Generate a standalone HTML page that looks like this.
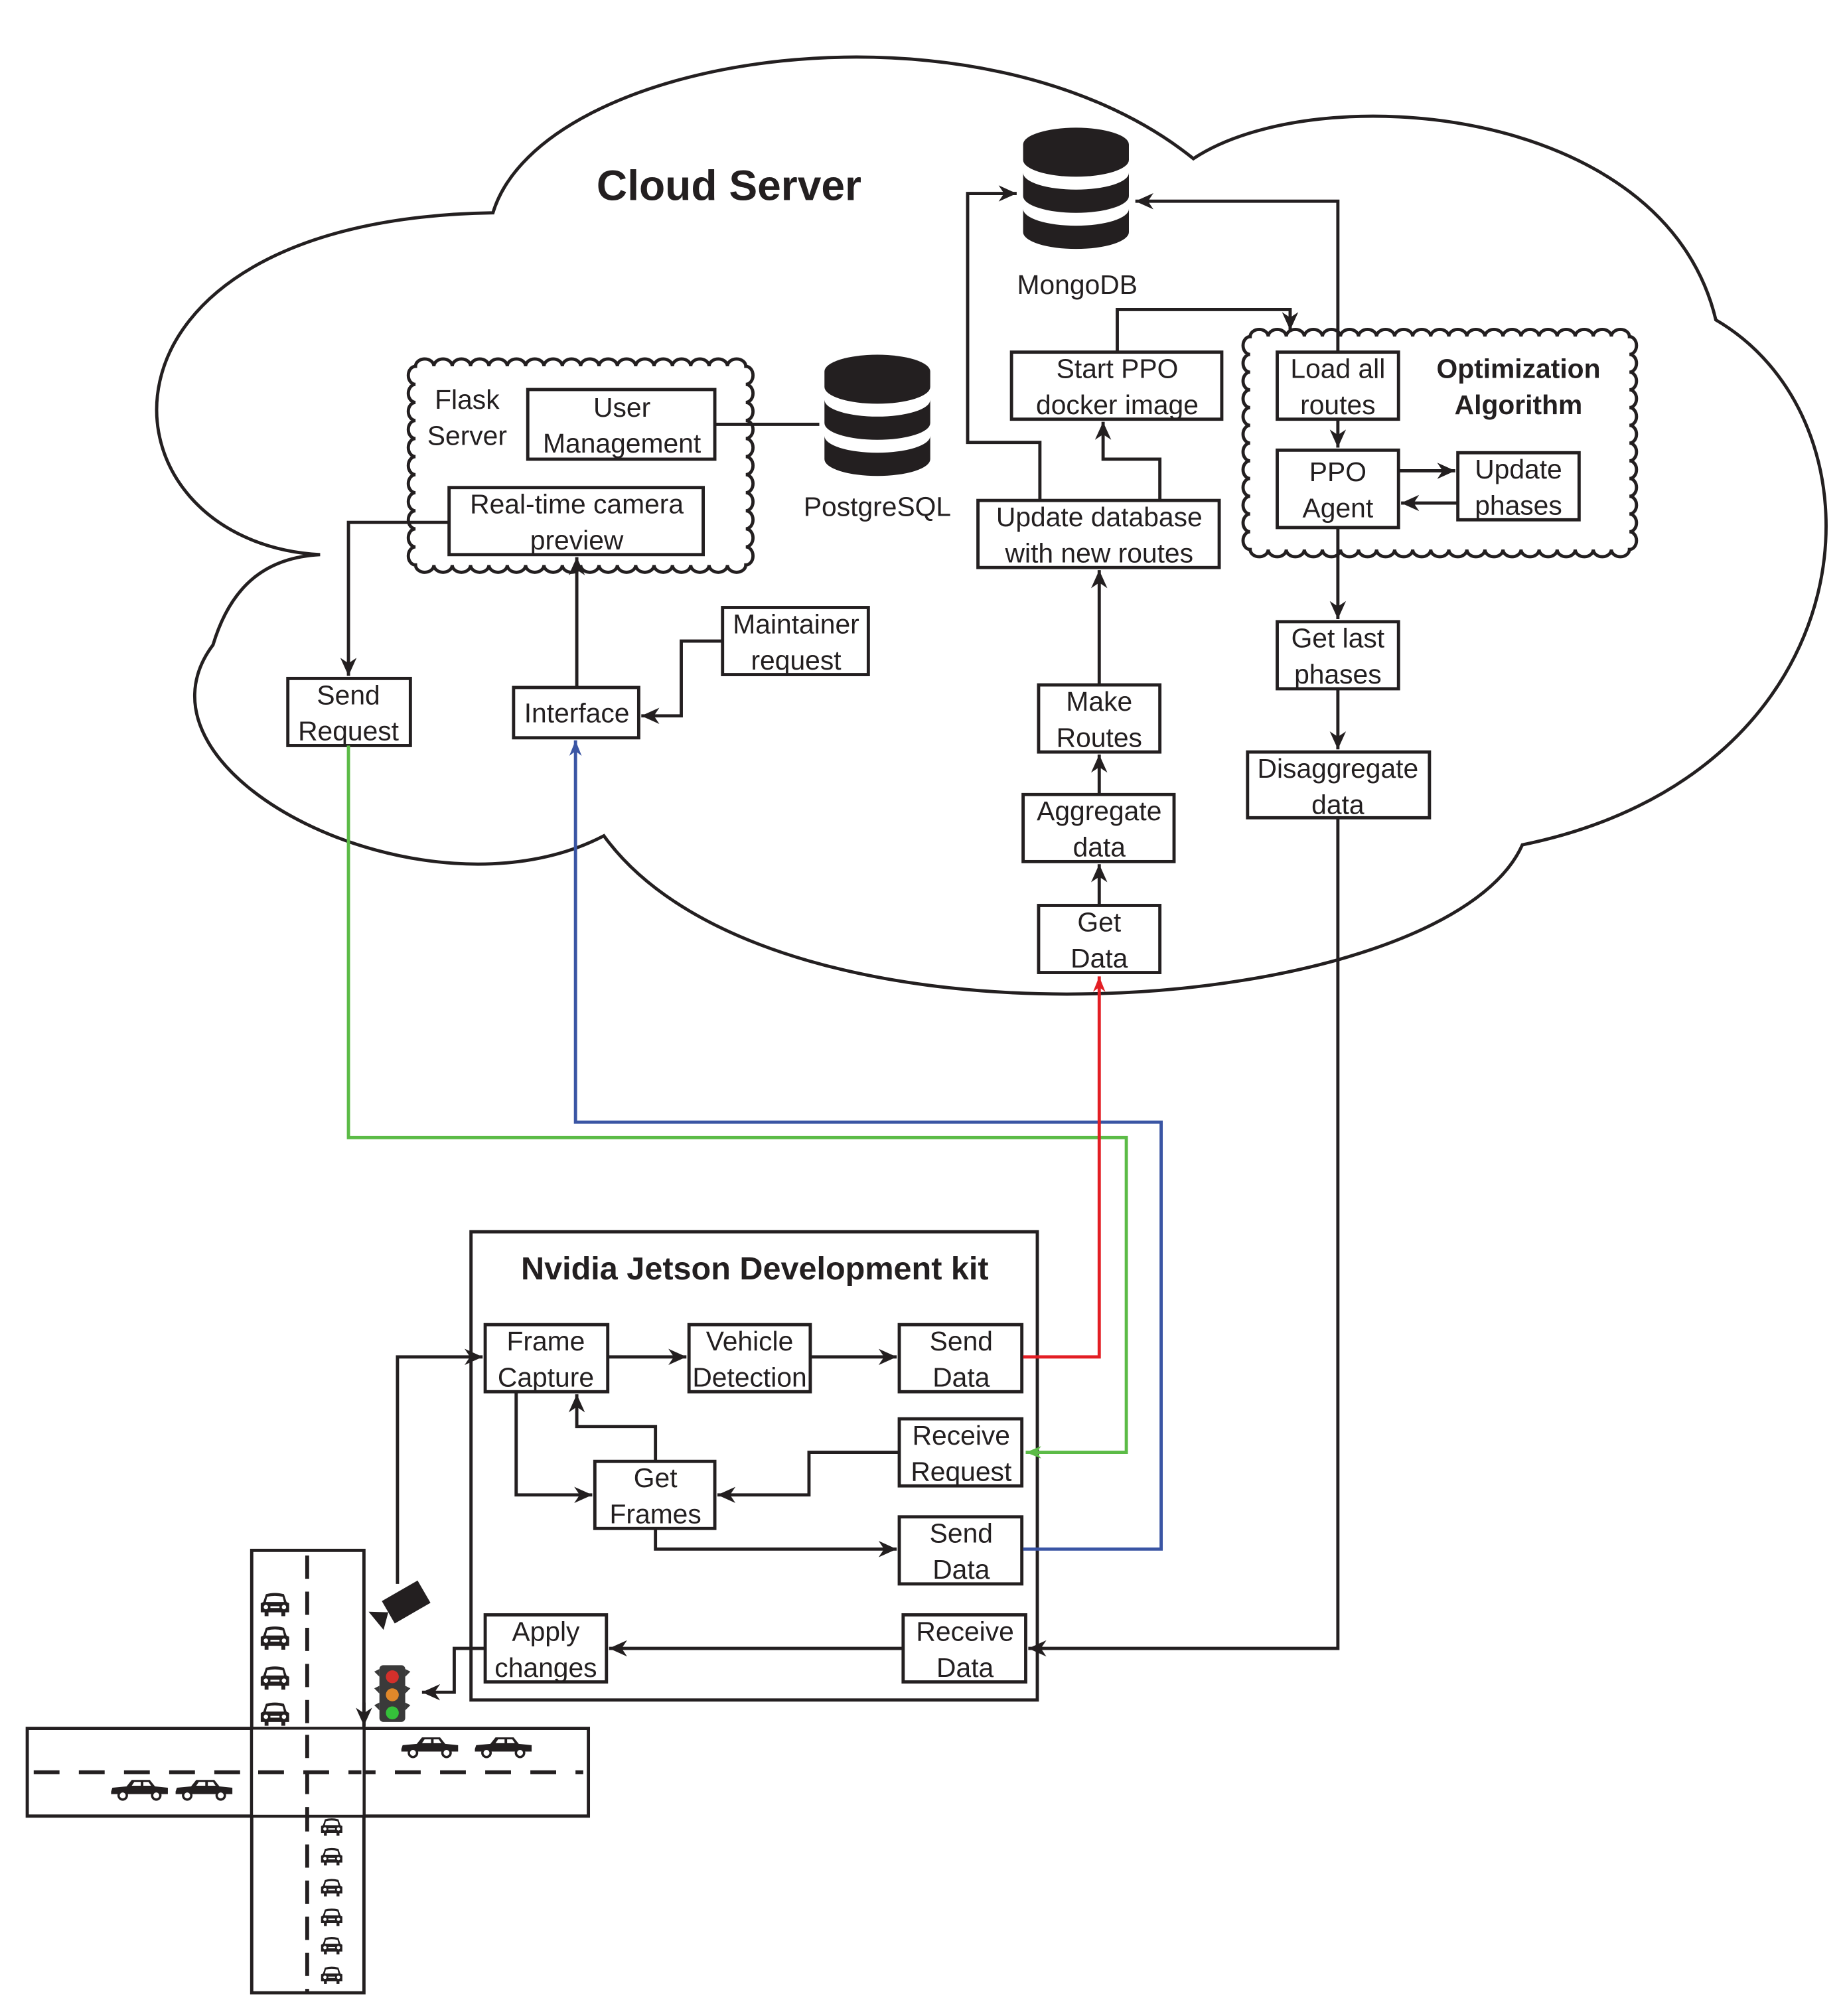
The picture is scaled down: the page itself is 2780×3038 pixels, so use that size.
<!DOCTYPE html>
<html><head><meta charset="utf-8"><style>
html,body{margin:0;padding:0;background:#fff}
svg{display:block}
text{font-family:"Liberation Sans",Arial,sans-serif;fill:#231f20}
</style></head><body>
<svg id="s" xmlns="http://www.w3.org/2000/svg" width="2780" height="3038" viewBox="0 0 1430 1563">
<defs>
<marker id="ar" viewBox="0 0 10 10" refX="10" refY="5" markerWidth="12" markerHeight="12" orient="auto" markerUnits="userSpaceOnUse"><path d="M0,1 L10,5 L0,9 L3,5 Z" fill="#e31e24"/></marker>
<marker id="ag" viewBox="0 0 10 10" refX="10" refY="5" markerWidth="12" markerHeight="12" orient="auto" markerUnits="userSpaceOnUse"><path d="M0,1 L10,5 L0,9 L3,5 Z" fill="#5bbb46"/></marker>
<marker id="ab" viewBox="0 0 10 10" refX="10" refY="5" markerWidth="12" markerHeight="12" orient="auto" markerUnits="userSpaceOnUse"><path d="M0,1 L10,5 L0,9 L3,5 Z" fill="#3a55a4"/></marker>
<marker id="k" viewBox="0 0 10 10" refX="10" refY="5" markerWidth="14" markerHeight="14" orient="auto" markerUnits="userSpaceOnUse"><path d="M0,0.5 L10,5 L0,9.5 L3,5 Z" fill="#231f20"/></marker>
<g id="db">
<path d="M-41,-38 A41,13 0 0 1 41,-38 L41,-26 A41,13 0 0 1 -41,-26 Z" fill="#231f20"/>
<path d="M-41,-16 A41,13 0 0 0 41,-16 L41,2 A41,13 0 0 1 -41,2 Z" fill="#231f20"/>
<path d="M-41,12 A41,13 0 0 0 41,12 L41,30 A41,13 0 0 1 -41,30 Z" fill="#231f20"/>
</g>
<g id="carS"><path d="M-22,-2 L-21,-5 L-10,-6 L-6,-11 L8,-11 L12,-6 L22,-5 L22,0 L-22,0 Z" fill="#231f20"/><circle cx="-13" cy="1" r="3.2" fill="#fff" stroke="#231f20" stroke-width="1.8"/><circle cx="13" cy="1" r="3.2" fill="#fff" stroke="#231f20" stroke-width="1.8"/><path d="M-4,-9.5 h5 v3 h-7 Z M3,-9.5 h4 l2,3 h-6 Z" fill="#fff"/></g>
<g id="carF"><path d="M-7,-10 Q0,-12 7,-10 L9,-4 L11,-3 L11,4 L8,4 L8,7 L5,7 L5,4 L-5,4 L-5,7 L-8,7 L-8,4 L-11,4 L-11,-3 L-9,-4 Z" fill="#231f20"/><path d="M-6,-8 Q0,-9.5 6,-8 L7,-4 L-7,-4 Z" fill="#fff"/><circle cx="-7" cy="0" r="1.7" fill="#fff"/><circle cx="7" cy="0" r="1.7" fill="#fff"/><rect x="-3.5" y="-0.7" width="7" height="1.4" fill="#fff"/></g>
</defs>

<g fill="none" stroke="#231f20" stroke-width="2.5">
<path d="M248,430 C70,420 50,170 382,165 C420,40 760,-10 925,123 C1020,60 1290,80 1330,248 C1470,330 1450,600 1180,655 C1120,790 600,830 468,648 C330,720 90,600 165,500 C180,450 210,432 248,430 Z"/>
</g>
<g id="scal" fill="none" stroke="#231f20" stroke-width="2.5"></g>

<text x="565" y="155" font-size="33" font-weight="bold" text-anchor="middle">Cloud Server</text>
<use href="#db" x="834" y="150"/>
<text x="835" y="228" font-size="21" text-anchor="middle">MongoDB</text>
<use href="#db" x="680" y="326"/>
<text x="680" y="400" font-size="21" text-anchor="middle">PostgreSQL</text>

<g fill="#fff" stroke="#231f20" stroke-width="2.5">
<rect x="409" y="302" width="145" height="54"/>
<rect x="348" y="378" width="197" height="52"/>
<rect x="223" y="526" width="95" height="52"/>
<rect x="398" y="533" width="97" height="39"/>
<rect x="560" y="471" width="113" height="52"/>
<rect x="805" y="702" width="94" height="52"/>
<rect x="793" y="616" width="117" height="52"/>
<rect x="805" y="531" width="94" height="52"/>
<rect x="758" y="388" width="187" height="52"/>
<rect x="784" y="273" width="163" height="52"/>
<rect x="990" y="273" width="94" height="52"/>
<rect x="990" y="349" width="94" height="60"/>
<rect x="1130" y="351" width="94" height="52"/>
<rect x="990" y="482" width="94" height="52"/>
<rect x="967" y="583" width="141" height="51"/>
<rect x="365" y="955" width="439" height="363" fill="none"/>
<rect x="376" y="1027" width="95" height="52"/>
<rect x="534" y="1027" width="94" height="52"/>
<rect x="697" y="1027" width="95" height="52"/>
<rect x="697" y="1100" width="95" height="52"/>
<rect x="461" y="1133" width="93" height="52"/>
<rect x="697" y="1176" width="95" height="52"/>
<rect x="376" y="1252" width="94" height="52"/>
<rect x="700" y="1252" width="95" height="52"/>
</g>

<g font-size="21" text-anchor="middle">
<text x="362" y="317">Flask</text><text x="362" y="345">Server</text>
<text x="482" y="323">User</text><text x="482" y="351">Management</text>
<text x="447" y="398">Real-time camera</text><text x="447" y="426">preview</text>
<text x="270" y="546">Send</text><text x="270" y="574">Request</text>
<text x="447" y="560">Interface</text>
<text x="617" y="491">Maintainer</text><text x="617" y="519">request</text>
<text x="852" y="722">Get</text><text x="852" y="750">Data</text>
<text x="852" y="636">Aggregate</text><text x="852" y="664">data</text>
<text x="852" y="551">Make</text><text x="852" y="579">Routes</text>
<text x="852" y="408">Update database</text><text x="852" y="436">with new routes</text>
<text x="866" y="293">Start PPO</text><text x="866" y="321">docker image</text>
<text x="1037" y="293">Load all</text><text x="1037" y="321">routes</text>
<text x="1037" y="373">PPO</text><text x="1037" y="401">Agent</text>
<text x="1177" y="371">Update</text><text x="1177" y="399">phases</text>
<text x="1037" y="502">Get last</text><text x="1037" y="530">phases</text>
<text x="1037" y="603">Disaggregate</text><text x="1037" y="631">data</text>
<text x="423" y="1047">Frame</text><text x="423" y="1075">Capture</text>
<text x="581" y="1047">Vehicle</text><text x="581" y="1075">Detection</text>
<text x="745" y="1047">Send</text><text x="745" y="1075">Data</text>
<text x="745" y="1120">Receive</text><text x="745" y="1148">Request</text>
<text x="508" y="1153">Get</text><text x="508" y="1181">Frames</text>
<text x="745" y="1196">Send</text><text x="745" y="1224">Data</text>
<text x="423" y="1272">Apply</text><text x="423" y="1300">changes</text>
<text x="748" y="1272">Receive</text><text x="748" y="1300">Data</text>
</g>
<text x="1177" y="293" font-size="21" font-weight="bold" text-anchor="middle">Optimization</text>
<text x="1177" y="321" font-size="21" font-weight="bold" text-anchor="middle">Algorithm</text>
<text x="585" y="992" font-size="25" font-weight="bold" text-anchor="middle">Nvidia Jetson Development kit</text>

<g fill="none" stroke="#231f20" stroke-width="2.5">
<path d="M554,329 H635"/>
<path d="M348,405 H270 V524" marker-end="url(#k)"/>
<path d="M447,533 V432" marker-end="url(#k)"/>
<path d="M560,497 H528 V555 H497" marker-end="url(#k)"/>
<path d="M852,702 V670" marker-end="url(#k)"/>
<path d="M852,616 V585" marker-end="url(#k)"/>
<path d="M852,531 V442" marker-end="url(#k)"/>
<path d="M899,388 V356 H855 V327" marker-end="url(#k)"/>
<path d="M806,388 V343 H750 V150 H788" marker-end="url(#k)"/>
<path d="M866,273 V240 H1000 V256" marker-end="url(#k)"/>
<path d="M1037,273 V156 H880" marker-end="url(#k)"/>
<path d="M1037,325 V347" marker-end="url(#k)"/>
<path d="M1084,365 H1128" marker-end="url(#k)"/>
<path d="M1130,390 H1086" marker-end="url(#k)"/>
<path d="M1037,409 V480" marker-end="url(#k)"/>
<path d="M1037,534 V581" marker-end="url(#k)"/>
<path d="M1037,634 V1278 H797" marker-end="url(#k)"/>
<path d="M471,1052 H532" marker-end="url(#k)"/>
<path d="M628,1052 H695" marker-end="url(#k)"/>
<path d="M400,1079 V1159 H459" marker-end="url(#k)"/>
<path d="M508,1133 V1106 H447 V1081" marker-end="url(#k)"/>
<path d="M697,1126 H627 V1159 H556" marker-end="url(#k)"/>
<path d="M508,1185 V1201 H695" marker-end="url(#k)"/>
<path d="M700,1278 H472" marker-end="url(#k)"/>
<path d="M376,1278 H352 V1312 H327" marker-end="url(#k)"/>
<path d="M308,1228 V1052 H374" marker-end="url(#k)"/>
</g>
<path d="M270,578 V882 H873 V1126 H795" fill="none" stroke="#5bbb46" stroke-width="2.5" marker-end="url(#ag)"/>
<path d="M793,1201 H900 V870 H446 V574" fill="none" stroke="#3a55a4" stroke-width="2.5" marker-end="url(#ab)"/>
<path d="M793,1052 H852 V757" fill="none" stroke="#e31e24" stroke-width="2.5" marker-end="url(#ar)"/>

<g fill="none" stroke="#231f20" stroke-width="2.5">
<rect x="195" y="1202" width="87" height="343"/>
<rect x="21" y="1340" width="435" height="68"/>
<path d="M195,1340 V1408 M282,1340 V1408"/>
<path d="M282,1320 V1338" marker-end="url(#k)"/>
</g>
<g stroke="#231f20" stroke-width="3" fill="none">
<path d="M238,1206 V1545" stroke-dasharray="18,10"/>
<path d="M26,1374 H452" stroke-dasharray="20,15"/>
</g>
<g fill="#fff"><rect x="196" y="1341" width="85" height="66"/></g>
<g stroke="#231f20" stroke-width="3" fill="none">
<path d="M238,1345 V1410" stroke-dasharray="18,10"/>
<path d="M200,1374 H280" stroke-dasharray="20,15"/>
</g>
<g transform="translate(213,1246)"><use href="#carF"/></g>
<g transform="translate(213,1272)"><use href="#carF"/></g>
<g transform="translate(213,1303)"><use href="#carF"/></g>
<g transform="translate(213,1331)"><use href="#carF"/></g>
<g transform="translate(257,1418) scale(0.75)"><use href="#carF"/></g>
<g transform="translate(257,1441) scale(0.75)"><use href="#carF"/></g>
<g transform="translate(257,1465) scale(0.75)"><use href="#carF"/></g>
<g transform="translate(257,1488) scale(0.75)"><use href="#carF"/></g>
<g transform="translate(257,1510) scale(0.75)"><use href="#carF"/></g>
<g transform="translate(257,1533) scale(0.75)"><use href="#carF"/></g>
<use href="#carS" x="333" y="1358"/><use href="#carS" x="390" y="1358"/>
<use href="#carS" x="108" y="1391"/><use href="#carS" x="158" y="1391"/>
<g transform="translate(313,1243) rotate(-30)">
<rect x="-14" y="-10" width="32" height="20" fill="#231f20"/>
<path d="M-14,0 L-27,-8 L-24,10 Z" fill="#231f20"/>
</g>
<g>
<rect x="294" y="1291" width="20" height="44" rx="3" fill="#3a3a3a"/>
<path d="M290,1296 l4,4 v-6 Z M318,1296 l-4,4 v-6 Z M290,1309 l4,4 v-6 Z M318,1309 l-4,4 v-6 Z M290,1322 l4,4 v-6 Z M318,1322 l-4,4 v-6 Z" fill="#3a3a3a"/>
<circle cx="304" cy="1300" r="5" fill="#d3302b"/>
<circle cx="304" cy="1314" r="5" fill="#e0882a"/>
<circle cx="304" cy="1328" r="5" fill="#35c13a"/>
</g>
</svg>
<script>
(function(){
var g=document.getElementById('scal');
function sc(x0,y0,x1,y1,r){
 var d='M'+x0+','+y0, w=x1-x0,h=y1-y0;
 var nx=Math.round(w/(2*r)),ny=Math.round(h/(2*r));
 var sx=w/nx, sy=h/ny, i, rr;
 rr=sx/2; for(i=0;i<nx;i++) d+=' a'+rr+','+rr*0.8+' 0 0 1 '+sx+',0';
 rr=sy/2; for(i=0;i<ny;i++) d+=' a'+rr*0.8+','+rr+' 0 0 1 0,'+sy;
 rr=sx/2; for(i=0;i<nx;i++) d+=' a'+rr+','+rr*0.8+' 0 0 1 '+(-sx)+',0';
 rr=sy/2; for(i=0;i<ny;i++) d+=' a'+rr*0.8+','+rr+' 0 0 1 0,'+(-sy);
 var p=document.createElementNS('http://www.w3.org/2000/svg','path');
 p.setAttribute('d',d+'Z'); g.appendChild(p);
}
sc(322,284,578,438,7);
sc(969,261,1263,426,7);
})();
</script>
</body></html>
